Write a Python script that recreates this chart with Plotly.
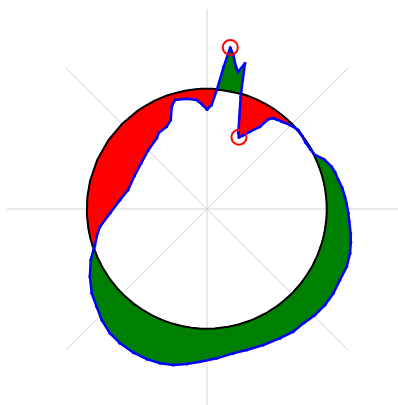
import numpy as np
import plotly.graph_objects as go

# compass angle (deg, clockwise from north) and radius (reference circle = 1)
angles = [0, 2.5, 4.7, 6.7, 8.2, 9.7, 11.5, 12.8, 14.6, 15.5, 16.7, 19.3, 22.5, 24.0,
          26.0, 29.1, 32.8, 34.3, 36.2, 38.0, 40.6, 44.7, 49.1, 52.5, 56, 60, 63.4,
          67, 71.3, 74, 77.5, 81, 84.9, 88, 91.7, 95, 99.6, 103, 107.2, 112.4, 118.1,
          123.7, 129.1, 134.5, 139.9, 144.9, 150.5, 157.5, 164.3, 169.7, 176.3, 182.6,
          187.5, 192.2, 196.9, 201.8, 207.1, 213, 218, 223.5, 228.5, 233.8, 240, 246.3,
          252.2, 255.9, 260.6, 267.5, 275.9, 283.6, 294.2, 305, 315.2, 324.6, 327.5,
          333.9, 337.8, 341, 343.6, 349.5, 354.6, 357.6, 360]
radii = [0.83, 0.868, 0.995, 1.195, 1.36, 1.302, 1.21, 1.173, 1.255, 1.115, 0.977, 0.815,
         0.683, 0.655, 0.68, 0.737, 0.816, 0.905, 0.936, 0.945, 0.958, 0.984, 1.006, 1.0,
         0.99, 0.995, 1.006, 1.06, 1.097, 1.11, 1.121, 1.14, 1.154, 1.165, 1.178, 1.19,
         1.214, 1.23, 1.248, 1.26, 1.256, 1.266, 1.268, 1.261, 1.246, 1.25, 1.237, 1.227,
         1.221, 1.223, 1.247, 1.274, 1.303, 1.33, 1.344, 1.348, 1.345, 1.333, 1.314,
         1.275, 1.228, 1.19, 1.127, 1.058, 0.98, 0.948, 0.904, 0.809, 0.729, 0.676,
         0.665, 0.668, 0.693, 0.723, 0.75, 0.764, 0.80, 0.902, 0.947, 0.935, 0.912,
         0.867, 0.83]
ref_radius = 1.0

r = np.array(radii)
th = np.array(angles)
circ = np.full_like(r, ref_radius)

fig = go.Figure()
# reference circle (drawn under the fills)
fig.add_trace(go.Scatterpolar(
    r=circ, theta=th, mode="lines", line=dict(color="black", width=2.5)))
# red: below reference circle
fig.add_trace(go.Scatterpolar(
    r=list(np.minimum(r, circ)) + list(circ[::-1]),
    theta=list(th) + list(th[::-1]),
    mode="none", fill="toself", fillcolor="red", hoverinfo="skip"))
# green: above reference circle
fig.add_trace(go.Scatterpolar(
    r=list(np.maximum(r, circ)) + list(circ[::-1]),
    theta=list(th) + list(th[::-1]),
    mode="none", fill="toself", fillcolor="green", hoverinfo="skip"))
# reference circle outline, thin on top
fig.add_trace(go.Scatterpolar(
    r=circ, theta=th, mode="lines", line=dict(color="black", width=1.5)))
# data curve
fig.add_trace(go.Scatterpolar(
    r=r, theta=th, mode="lines+markers", line=dict(color="blue", width=2.5),
    marker=dict(color="blue", size=3)))
# extremes
imax, imin = int(np.argmax(r)), int(np.argmin(r))
fig.add_trace(go.Scatterpolar(
    r=[r[imax], r[imin]], theta=[th[imax], th[imin]], mode="markers",
    marker=dict(symbol="circle-open", size=15, color="red", line=dict(width=2, color="red"))))

fig.update_layout(
    width=414, height=418, showlegend=False,
    margin=dict(l=7, r=7, t=9, b=9),
    paper_bgcolor="white",
    polar=dict(
        bgcolor="white",
        radialaxis=dict(range=[0, 5 / 3], showgrid=False, showline=False,
                        showticklabels=False, ticks=""),
        angularaxis=dict(rotation=90, direction="clockwise", dtick=45,
                         showgrid=True, gridcolor="#d3d3d3", gridwidth=1,
                         showline=False, showticklabels=False, ticks=""),
    ),
)
fig.write_html(
    "out.html",
    config={"displayModeBar": False},
    post_script="document.body.style.margin='0';document.body.style.overflow='hidden';"
                "document.documentElement.style.overflow='hidden';")
